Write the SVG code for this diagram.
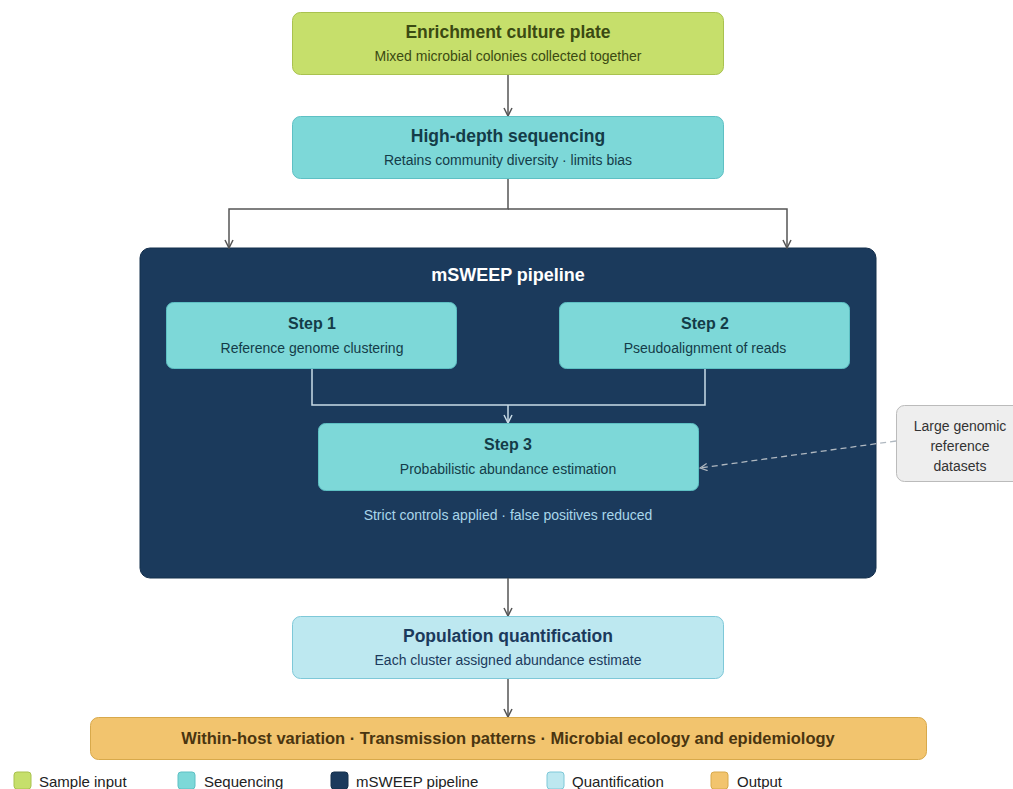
<svg xmlns="http://www.w3.org/2000/svg" width="1013" height="789" viewBox="0 0 1013 789">
<defs>
<style>
text{font-family:"Liberation Sans",Arial,sans-serif;text-anchor:middle}
.t{font-weight:bold;font-size:17.5px}
.st{font-weight:bold;font-size:16px}
.s{font-size:14px}
.lg{font-size:15px;text-anchor:start;fill:#222}
.con{fill:none;stroke:#555;stroke-width:1.5}
.conl{fill:none;stroke:#c9dbe6;stroke-width:1.5}
</style>
<marker id="ah" viewBox="0 0 10 10" refX="9" refY="5" markerWidth="10" markerHeight="10" markerUnits="userSpaceOnUse" orient="auto"><path d="M1,1 L9,5 L1,9" fill="none" stroke="#555" stroke-width="1.5"/></marker>
<marker id="ahl" viewBox="0 0 10 10" refX="9" refY="5" markerWidth="10" markerHeight="10" markerUnits="userSpaceOnUse" orient="auto"><path d="M1,1 L9,5 L1,9" fill="none" stroke="#c9dbe6" stroke-width="1.5"/></marker>
<marker id="ahg" viewBox="0 0 10 10" refX="9" refY="5" markerWidth="9" markerHeight="9" markerUnits="userSpaceOnUse" orient="auto"><path d="M1,1 L9,5 L1,9" fill="none" stroke="#b0b8c0" stroke-width="1.3"/></marker>
</defs>
<rect width="1013" height="789" fill="#ffffff"/>

<g id="pipeline">
<rect x="140" y="248" width="736" height="330" rx="10" fill="#1b3a5c" stroke="#15304d"/>
<text x="508" y="281" class="t" fill="#ffffff" style="font-size:18px">mSWEEP pipeline</text>
<text x="508" y="520" class="s" fill="#a9d6ea">Strict controls applied · false positives reduced</text>
</g>

<g id="connectors">
<path class="con" d="M508,75 V116" marker-end="url(#ah)"/>
<path class="con" d="M508,179 V209 H229 V248" marker-end="url(#ah)"/>
<path class="con" d="M508,209 H787 V248" marker-end="url(#ah)"/>
<path class="conl" d="M312,369 V405 H705 V369"/>
<path class="conl" d="M508,405 V423" marker-end="url(#ahl)"/>
<path d="M896,441 L700,468" fill="none" stroke="#b0b8c0" stroke-width="1.3" stroke-dasharray="6,4" marker-end="url(#ahg)"/>
<path class="con" d="M508,578 V616" marker-end="url(#ah)"/>
<path class="con" d="M508,679 V717" marker-end="url(#ah)"/>
</g>

<g id="enrichment">
<rect x="292.5" y="12.5" width="431" height="62" rx="8" fill="#c6df6b" stroke="#a9c24f"/>
<text x="508" y="38" class="t" fill="#3b4a12">Enrichment culture plate</text>
<text x="508" y="61" class="s" fill="#3b4a12">Mixed microbial colonies collected together</text>
</g>

<g id="sequencing">
<rect x="292.5" y="116.5" width="431" height="62" rx="8" fill="#7dd8d8" stroke="#5ec0c4"/>
<text x="508" y="142" class="t" fill="#143c48">High-depth sequencing</text>
<text x="508" y="165" class="s" fill="#143c48">Retains community diversity · limits bias</text>
</g>

<g id="step1">
<rect x="166.5" y="302.5" width="290" height="66" rx="7" fill="#7dd8d8" stroke="#5ec0c4"/>
<text x="312" y="329" class="st" fill="#143c48">Step 1</text>
<text x="312" y="353" class="s" fill="#143c48">Reference genome clustering</text>
</g>

<g id="step2">
<rect x="559.5" y="302.5" width="290" height="66" rx="7" fill="#7dd8d8" stroke="#5ec0c4"/>
<text x="705" y="329" class="st" fill="#143c48">Step 2</text>
<text x="705" y="353" class="s" fill="#143c48">Pseudoalignment of reads</text>
</g>

<g id="step3">
<rect x="318.5" y="423.5" width="380" height="67" rx="7" fill="#7dd8d8" stroke="#5ec0c4"/>
<text x="508" y="450" class="st" fill="#143c48">Step 3</text>
<text x="508" y="474" class="s" fill="#143c48">Probabilistic abundance estimation</text>
</g>

<g id="reference">
<rect x="896.5" y="405.5" width="130" height="76" rx="8" fill="#eeeeee" stroke="#bbbbbb"/>
<text x="960" y="431" class="s" fill="#333333">Large genomic</text>
<text x="960" y="451" class="s" fill="#333333">reference</text>
<text x="960" y="471" class="s" fill="#333333">datasets</text>
</g>

<g id="quantification">
<rect x="292.5" y="616.5" width="431" height="62" rx="8" fill="#bde8f0" stroke="#7ec8d8"/>
<text x="508" y="642" class="t" fill="#1b3a5c">Population quantification</text>
<text x="508" y="665" class="s" fill="#1b3a5c">Each cluster assigned abundance estimate</text>
</g>

<g id="output">
<rect x="90.5" y="717.5" width="836" height="42" rx="8" fill="#f2c46e" stroke="#d8a94b"/>
<text x="508" y="744" class="t" fill="#4a3510" style="font-size:16.5px">Within-host variation · Transmission patterns · Microbial ecology and epidemiology</text>
</g>

<g id="legend">
<rect x="14" y="772" width="17" height="17" rx="3" fill="#c6df6b" stroke="#a9c24f"/>
<text x="39" y="787" class="lg">Sample input</text>
<rect x="178" y="772" width="17" height="17" rx="3" fill="#7dd8d8" stroke="#5ec0c4"/>
<text x="204" y="787" class="lg">Sequencing</text>
<rect x="331" y="772" width="17" height="17" rx="3" fill="#1b3a5c" stroke="#15304d"/>
<text x="356" y="787" class="lg">mSWEEP pipeline</text>
<rect x="547" y="772" width="17" height="17" rx="3" fill="#bde8f0" stroke="#7ec8d8"/>
<text x="572" y="787" class="lg">Quantification</text>
<rect x="711" y="772" width="17" height="17" rx="3" fill="#f2c46e" stroke="#d8a94b"/>
<text x="737" y="787" class="lg">Output</text>
</g>
</svg>
